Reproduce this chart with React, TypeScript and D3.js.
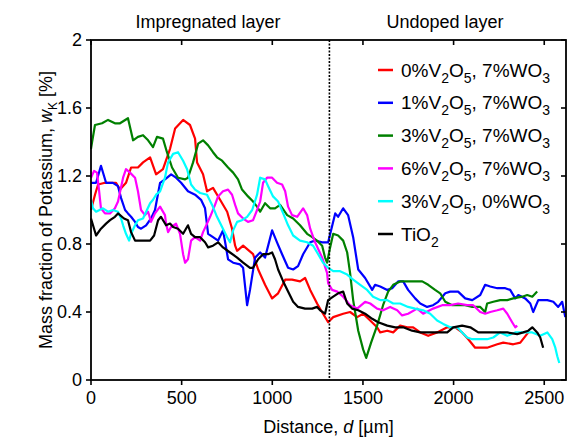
import React from "react";
import * as d3 from "d3";

const xTicks = [0, 500, 1000, 1500, 2000, 2500];
const yTicks = [0, 0.4, 0.8, 1.2, 1.6, 2];
const yTickLabels = ["0", "0.4", "0.8", "1.2", "1.6", "2"];
const boundary = 1315;

const red: [number, number][] = [
  [0, 1.0], [22, 1.09], [39, 1.15], [77, 1.16], [138, 1.16], [160, 1.12], [193, 1.16], [221, 1.25], [259, 1.25], [287, 1.28], [326, 1.31], [359, 1.21], [397, 1.24], [436, 1.36], [464, 1.48], [508, 1.53], [546, 1.5], [574, 1.42], [585, 1.28], [618, 1.21], [640, 1.11], [673, 1.13], [712, 1.06], [751, 0.99], [778, 0.89], [795, 0.79], [806, 0.76], [839, 0.79], [894, 0.74], [922, 0.65], [960, 0.56], [999, 0.48], [1032, 0.51], [1071, 0.59], [1109, 0.59], [1153, 0.58], [1181, 0.6], [1209, 0.53], [1247, 0.45], [1280, 0.39], [1308, 0.34], [1336, 0.37], [1391, 0.39], [1429, 0.4], [1468, 0.37], [1501, 0.39], [1540, 0.35], [1578, 0.31], [1595, 0.28], [1634, 0.29], [1667, 0.28], [1705, 0.32], [1744, 0.31], [1777, 0.31], [1816, 0.28], [1860, 0.26], [1909, 0.28], [1965, 0.31], [2009, 0.31], [2047, 0.28], [2081, 0.24], [2119, 0.19], [2185, 0.19], [2241, 0.21], [2274, 0.22], [2329, 0.21], [2368, 0.22], [2412, 0.28],
];

const blue: [number, number][] = [
  [0, 1.16], [28, 1.16], [55, 1.26], [83, 1.16], [121, 1.16], [149, 1.14], [166, 1.07], [188, 1.0], [204, 0.98], [221, 0.96], [243, 0.93], [259, 0.9], [276, 0.89], [304, 0.91], [331, 0.95], [353, 1.0], [381, 1.16], [408, 1.18], [442, 1.21], [469, 1.19], [497, 1.16], [535, 1.11], [574, 1.09], [607, 1.06], [629, 1.01], [646, 0.86], [673, 0.84], [701, 0.82], [728, 0.88], [740, 0.81], [756, 0.71], [784, 0.69], [822, 0.68], [839, 0.66], [861, 0.44], [877, 0.53], [905, 0.72], [933, 0.75], [960, 0.72], [999, 0.88], [1026, 0.81], [1054, 0.74], [1087, 0.66], [1115, 0.65], [1142, 0.67], [1170, 0.74], [1209, 0.81], [1236, 0.82], [1275, 0.81], [1308, 0.81], [1347, 0.98], [1363, 0.96], [1391, 1.01], [1418, 0.97], [1446, 0.84], [1474, 0.65], [1512, 0.6], [1551, 0.53], [1567, 0.56], [1595, 0.55], [1634, 0.53], [1661, 0.54], [1694, 0.58], [1722, 0.58], [1749, 0.53], [1788, 0.48], [1816, 0.45], [1854, 0.43], [1887, 0.44], [1915, 0.46], [1954, 0.51], [1981, 0.52], [2025, 0.52], [2064, 0.48], [2103, 0.47], [2147, 0.5], [2174, 0.56], [2202, 0.55], [2241, 0.54], [2285, 0.54], [2312, 0.53], [2340, 0.48], [2357, 0.5], [2395, 0.48], [2423, 0.45], [2439, 0.4], [2467, 0.47], [2517, 0.47], [2550, 0.46], [2577, 0.43], [2599, 0.46], [2616, 0.37],
];

const green: [number, number][] = [
  [0, 1.36], [6, 1.4], [22, 1.5], [61, 1.51], [94, 1.53], [132, 1.51], [160, 1.51], [204, 1.54], [232, 1.41], [259, 1.43], [287, 1.44], [315, 1.41], [342, 1.37], [364, 1.43], [397, 1.42], [419, 1.34], [447, 1.25], [480, 1.19], [519, 1.18], [535, 1.19], [563, 1.28], [591, 1.39], [618, 1.41], [646, 1.38], [673, 1.34], [695, 1.31], [723, 1.29], [756, 1.25], [784, 1.22], [811, 1.18], [833, 1.12], [866, 1.08], [894, 1.05], [916, 1.02], [933, 0.99], [960, 1.04], [988, 1.01], [1015, 1.01], [1043, 1.03], [1082, 0.97], [1115, 0.95], [1153, 0.91], [1192, 0.86], [1220, 0.84], [1247, 0.82], [1275, 0.79], [1291, 0.72], [1302, 0.69], [1319, 0.78], [1336, 0.86], [1363, 0.85], [1391, 0.82], [1413, 0.75], [1429, 0.63], [1446, 0.47], [1474, 0.29], [1501, 0.18], [1518, 0.13], [1545, 0.22], [1578, 0.32], [1611, 0.44], [1639, 0.52], [1667, 0.56], [1705, 0.58], [1749, 0.58], [1788, 0.58], [1827, 0.58], [1860, 0.56], [1898, 0.53], [1926, 0.51], [1954, 0.46], [1992, 0.44], [2025, 0.44], [2064, 0.44], [2103, 0.43], [2147, 0.43], [2174, 0.4], [2185, 0.45], [2219, 0.46], [2257, 0.47], [2296, 0.47], [2329, 0.48], [2379, 0.49], [2406, 0.5], [2434, 0.49], [2461, 0.52],
];

const magenta: [number, number][] = [
  [0, 1.19], [17, 1.23], [33, 1.22], [44, 1.12], [55, 1.01], [77, 0.98], [105, 0.98], [132, 1.01], [149, 1.05], [177, 1.19], [193, 1.24], [215, 1.22], [243, 1.19], [259, 1.11], [276, 1.0], [298, 0.97], [315, 0.99], [331, 0.93], [353, 0.98], [381, 1.02], [408, 0.97], [414, 0.92], [425, 0.87], [442, 0.9], [469, 0.92], [491, 0.86], [508, 0.74], [519, 0.69], [535, 0.71], [552, 0.82], [574, 0.84], [602, 0.82], [618, 0.87], [640, 0.92], [657, 0.96], [684, 1.03], [701, 1.08], [728, 1.11], [756, 1.12], [778, 1.09], [795, 1.03], [811, 0.98], [839, 0.95], [866, 0.93], [894, 0.94], [916, 1.0], [933, 1.05], [949, 1.16], [971, 1.19], [999, 1.19], [1026, 1.16], [1054, 1.15], [1071, 1.11], [1087, 1.02], [1109, 0.97], [1137, 0.96], [1170, 1.01], [1192, 0.97], [1209, 0.89], [1236, 0.81], [1275, 0.72], [1302, 0.63], [1308, 0.57], [1330, 0.53], [1358, 0.52], [1391, 0.49], [1429, 0.44], [1468, 0.42], [1512, 0.46], [1540, 0.45], [1578, 0.42], [1611, 0.41], [1650, 0.43], [1689, 0.41], [1716, 0.38], [1749, 0.39], [1799, 0.42], [1832, 0.39], [1887, 0.42], [1937, 0.44], [1981, 0.44], [2025, 0.45], [2075, 0.44], [2108, 0.44], [2147, 0.4], [2174, 0.39], [2202, 0.4], [2241, 0.41], [2274, 0.42], [2296, 0.39], [2323, 0.34], [2340, 0.31], [2351, 0.32],
];

const cyan: [number, number][] = [
  [0, 1.06], [11, 1.01], [28, 0.99], [66, 1.01], [94, 0.99], [121, 1.0], [149, 0.99], [166, 0.95], [177, 0.91], [193, 0.86], [210, 0.82], [221, 0.86], [243, 0.91], [259, 0.94], [287, 0.95], [304, 0.99], [326, 1.04], [342, 1.06], [359, 1.09], [381, 1.11], [408, 1.19], [425, 1.28], [453, 1.33], [480, 1.34], [508, 1.29], [530, 1.24], [552, 1.15], [574, 1.12], [602, 1.1], [640, 1.09], [668, 1.03], [695, 0.96], [723, 0.9], [751, 0.84], [767, 0.81], [784, 0.88], [806, 0.93], [833, 0.94], [861, 0.96], [889, 1.0], [916, 1.09], [933, 1.19], [960, 1.18], [977, 1.14], [1004, 1.08], [1032, 1.05], [1060, 0.98], [1087, 0.91], [1115, 0.85], [1153, 0.82], [1192, 0.81], [1225, 0.79], [1253, 0.74], [1280, 0.69], [1308, 0.66], [1336, 0.64], [1374, 0.64], [1413, 0.62], [1446, 0.59], [1485, 0.56], [1523, 0.53], [1556, 0.49], [1595, 0.47], [1634, 0.47], [1667, 0.45], [1705, 0.45], [1749, 0.43], [1788, 0.42], [1832, 0.41], [1871, 0.39], [1909, 0.35], [1943, 0.33], [1981, 0.31], [2020, 0.31], [2047, 0.28], [2075, 0.25], [2103, 0.24], [2147, 0.24], [2185, 0.24], [2219, 0.25], [2257, 0.28], [2296, 0.26], [2340, 0.28], [2384, 0.28], [2434, 0.28], [2478, 0.26], [2517, 0.28], [2544, 0.24], [2561, 0.19], [2572, 0.14], [2583, 0.1],
];

const black: [number, number][] = [
  [0, 0.95], [28, 0.85], [55, 0.89], [83, 0.92], [105, 0.94], [132, 0.96], [149, 0.98], [182, 0.95], [204, 0.94], [221, 0.87], [243, 0.82], [287, 0.82], [326, 0.82], [348, 0.85], [370, 0.94], [386, 0.96], [414, 0.91], [436, 0.92], [453, 0.9], [480, 0.89], [508, 0.86], [535, 0.91], [552, 0.86], [574, 0.84], [602, 0.84], [629, 0.81], [646, 0.78], [673, 0.79], [701, 0.81], [728, 0.78], [767, 0.75], [806, 0.72], [839, 0.69], [877, 0.66], [894, 0.66], [922, 0.71], [949, 0.74], [977, 0.74], [999, 0.75], [1015, 0.71], [1032, 0.65], [1060, 0.58], [1087, 0.52], [1115, 0.46], [1142, 0.43], [1181, 0.42], [1220, 0.42], [1247, 0.43], [1264, 0.41], [1291, 0.39], [1308, 0.47], [1336, 0.49], [1363, 0.51], [1391, 0.52], [1413, 0.45], [1440, 0.42], [1474, 0.41], [1512, 0.39], [1551, 0.36], [1584, 0.34], [1634, 0.32], [1678, 0.31], [1722, 0.31], [1771, 0.29], [1816, 0.28], [1871, 0.28], [1915, 0.28], [1965, 0.28], [1998, 0.31], [2047, 0.32], [2092, 0.31], [2136, 0.28], [2185, 0.28], [2241, 0.28], [2296, 0.28], [2351, 0.27], [2384, 0.28], [2412, 0.29], [2434, 0.31], [2461, 0.28], [2478, 0.25], [2494, 0.19],
];

const legendV = ["0", "1", "3", "6", "3"];
const legendW = ["7", "7", "7", "7", "0"];
const colors = ["#ff0000", "#0000ff", "#008000", "#ff00ff", "#00ffff", "#000000"];
const seriesData = [red, blue, green, magenta, cyan, black];

const FONT = "'Liberation Sans', Arial, sans-serif";

export default function App() {
  const W = 576, H = 441;
  const left = 91, right = 566, top = 40, bottom = 380;
  const x = d3.scaleLinear().domain([0, 2620]).range([left, right]);
  const y = d3.scaleLinear().domain([0, 2]).range([bottom, top]);
  const line = d3.line<[number, number]>().x((d) => x(d[0])).y((d) => y(d[1]));
  const fs = 18;
  const lfs = 19;
  const legX = 378, legTextX = 401, legY0 = 70, legDY = 32.8;
  return (
    <svg width={W} height={H} style={{ position: "absolute", left: 0, top: 0, background: "#fff" }} fontFamily={FONT}>
      <rect x={0} y={0} width={W} height={H} fill="#fff" />
      {seriesData.map((data, i) => (
        <path key={"s" + i} d={line(data) || ""} fill="none" stroke={colors[i]} strokeWidth={2.2} strokeLinejoin="round" />
      ))}
      <line x1={x(boundary)} x2={x(boundary)} y1={top} y2={bottom} stroke="#000" strokeWidth={1.6} strokeDasharray="2,1.5" />
      <rect x={left} y={top} width={right - left} height={bottom - top} fill="none" stroke="#000" strokeWidth={1.8} />
      {yTicks.map((t, i) => (
        <g key={"y" + i}>
          <line x1={left - 5} x2={left} y1={y(t)} y2={y(t)} stroke="#000" strokeWidth={1.6} />
          <line x1={right - 5} x2={right} y1={y(t)} y2={y(t)} stroke="#000" strokeWidth={1.6} />
          <text x={left - 9} y={y(t)} dy="0.35em" textAnchor="end" fontSize={fs}>{yTickLabels[i]}</text>
        </g>
      ))}
      {xTicks.map((t) => (
        <g key={"x" + t}>
          <line x1={x(t)} x2={x(t)} y1={bottom} y2={bottom + 5} stroke="#000" strokeWidth={1.6} />
          <line x1={x(t)} x2={x(t)} y1={top} y2={top + 5} stroke="#000" strokeWidth={1.6} />
          <text x={x(t)} y={bottom + 24} textAnchor="middle" fontSize={fs}>{t}</text>
        </g>
      ))}
      <text x={(left + right) / 2} y={433} textAnchor="middle" fontSize={fs}>
        Distance, <tspan fontStyle="italic">d</tspan> [µm]
      </text>
      <text transform={`translate(52,${(top + bottom) / 2}) rotate(-90)`} textAnchor="middle" fontSize={fs}>
        Mass fraction of Potassium, <tspan fontStyle="italic">w</tspan>
        <tspan fontSize={12} dy={5}>K</tspan>
        <tspan dy={-5}> [%]</tspan>
      </text>
      <text x={208} y={28} textAnchor="middle" fontSize={fs}>Impregnated layer</text>
      <text x={445} y={28} textAnchor="middle" fontSize={fs}>Undoped layer</text>
      {colors.map((c, i) => {
        const ly = legY0 + i * legDY;
        return (
          <g key={"leg" + i}>
            <line x1={legX} x2={legX + 15} y1={ly} y2={ly} stroke={c} strokeWidth={2.5} />
            {i < legendV.length ? (
              <text x={legTextX} y={ly} dy="0.35em" fontSize={lfs}>
                {legendV[i]}%V<tspan fontSize={14} dy={6}>2</tspan>
                <tspan dy={-6}>O</tspan>
                <tspan fontSize={14} dy={6}>5</tspan>
                <tspan dy={-6}>, {legendW[i]}%WO</tspan>
                <tspan fontSize={14} dy={6}>3</tspan>
              </text>
            ) : (
              <text x={legTextX} y={ly} dy="0.35em" fontSize={lfs}>
                TiO<tspan fontSize={14} dy={6}>2</tspan>
              </text>
            )}
          </g>
        );
      })}
    </svg>
  );
}
